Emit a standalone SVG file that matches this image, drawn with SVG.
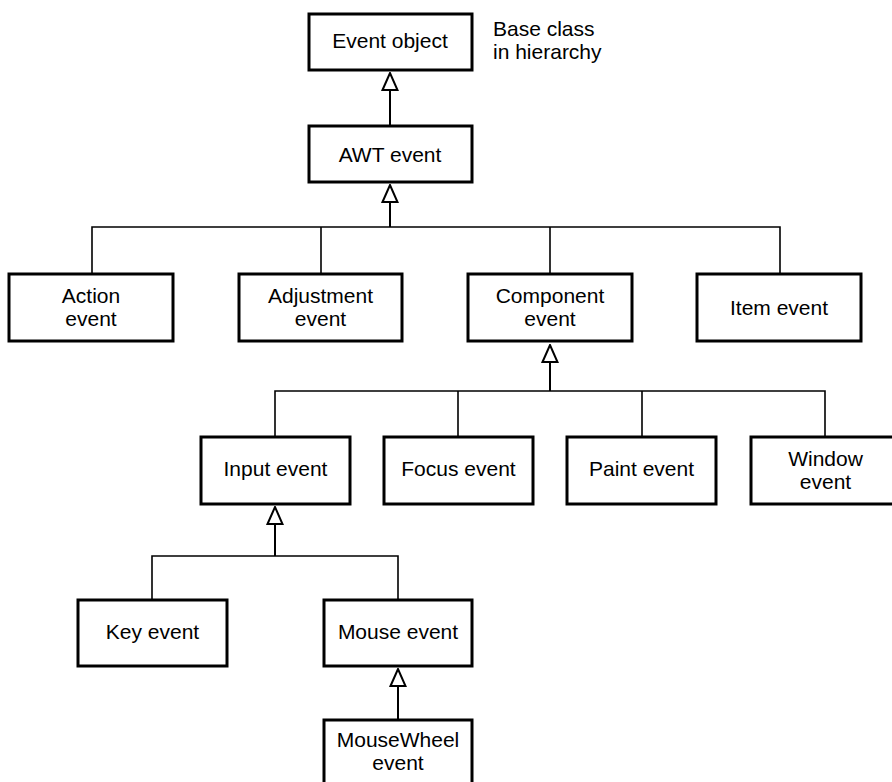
<svg xmlns="http://www.w3.org/2000/svg" width="892" height="782" viewBox="0 0 892 782">
<style>
.box{fill:#fff;stroke:#000;stroke-width:3}
.t{font-family:"Liberation Sans",Arial,sans-serif;font-size:21px;fill:#000;text-anchor:middle}
.note{font-family:"Liberation Sans",Arial,sans-serif;font-size:21px;fill:#000}
.stem{fill:none;stroke:#000;stroke-width:2;marker-end:url(#tri)}
.br{fill:none;stroke:#000;stroke-width:1.6}
</style>
<defs>
<marker id="tri" viewBox="0 0 19 18" refX="18" refY="9" markerWidth="19" markerHeight="18" markerUnits="userSpaceOnUse" orient="auto">
<path d="M1,1.5 L18,9 L1,16.5 Z" fill="#fff" stroke="#000" stroke-width="2"/>
</marker>
</defs>
<rect width="892" height="782" fill="#fff"/>
<g id="connectors">
<path class="stem" d="M390,125 L390,73"/>
<path class="stem" d="M390,227 L390,185"/>
<path class="br" d="M92,273 L92,227 L780,227 L780,273 M321,227 L321,273 M550,227 L550,273"/>
<path class="stem" d="M550,391 L550,345"/>
<path class="br" d="M275,436 L275,391 L825,391 L825,436 M458,391 L458,436 M642,391 L642,436"/>
<path class="stem" d="M275,556 L275,507"/>
<path class="br" d="M152,599 L152,556 L398,556 L398,599"/>
<path class="stem" d="M398,719 L398,669"/>
</g>
<g id="note"><text class="note" x="493" y="36">Base class</text><text class="note" x="493" y="59">in hierarchy</text></g>
<g id="event-object"><rect class="box" x="309" y="14" width="163" height="56"/><text class="t" x="390" y="48">Event object</text></g>
<g id="awt-event"><rect class="box" x="309" y="126" width="163" height="56"/><text class="t" x="390" y="162">AWT event</text></g>
<g id="action-event"><rect class="box" x="9" y="274" width="164" height="67"/><text class="t" x="91" y="303">Action</text><text class="t" x="91" y="326">event</text></g>
<g id="adjustment-event"><rect class="box" x="239" y="274" width="163" height="67"/><text class="t" x="320.5" y="303">Adjustment</text><text class="t" x="320.5" y="326">event</text></g>
<g id="component-event"><rect class="box" x="468" y="274" width="164" height="67"/><text class="t" x="550" y="303">Component</text><text class="t" x="550" y="326">event</text></g>
<g id="item-event"><rect class="box" x="697" y="274" width="164" height="67"/><text class="t" x="779" y="315">Item event</text></g>
<g id="input-event"><rect class="box" x="201" y="437" width="149" height="67"/><text class="t" x="275.5" y="476">Input event</text></g>
<g id="focus-event"><rect class="box" x="384" y="437" width="149" height="67"/><text class="t" x="458.5" y="476">Focus event</text></g>
<g id="paint-event"><rect class="box" x="567" y="437" width="149" height="67"/><text class="t" x="641.5" y="476">Paint event</text></g>
<g id="window-event"><rect class="box" x="751" y="437" width="149" height="67"/><text class="t" x="825.5" y="466">Window</text><text class="t" x="825.5" y="489">event</text></g>
<g id="key-event"><rect class="box" x="78" y="600" width="149" height="66"/><text class="t" x="152.5" y="639">Key event</text></g>
<g id="mouse-event"><rect class="box" x="324" y="600" width="148" height="66"/><text class="t" x="398" y="639">Mouse event</text></g>
<g id="mousewheel-event"><rect class="box" x="324" y="720" width="148" height="70"/><text class="t" x="398" y="747">MouseWheel</text><text class="t" x="398" y="770">event</text></g>
</svg>
